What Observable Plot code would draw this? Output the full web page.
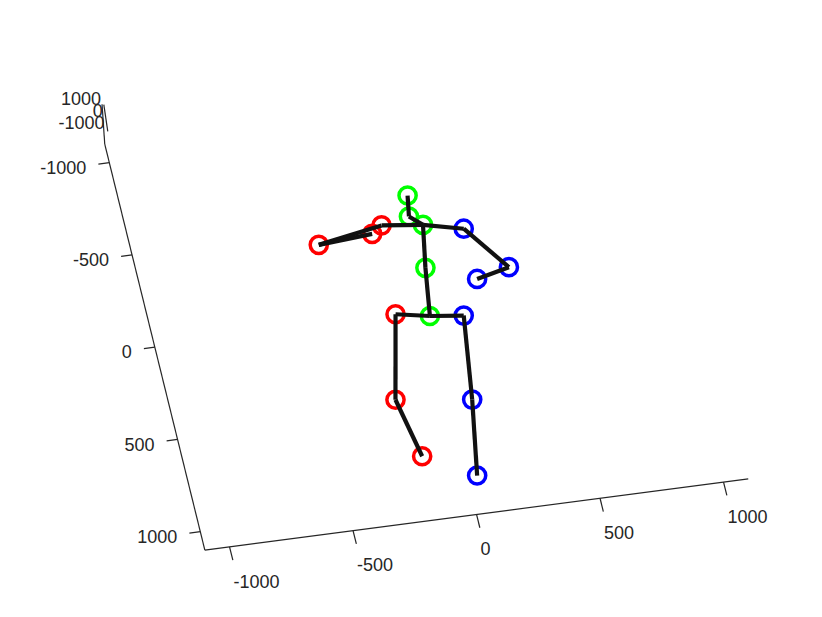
<!DOCTYPE html>
<html>
<head>
<meta charset="utf-8">
<script src="https://cdn.jsdelivr.net/npm/d3@7"></script>
<script src="https://cdn.jsdelivr.net/npm/@observablehq/plot@0.6"></script>
<style>
  html, body { margin: 0; padding: 0; background: #fff; }
  #chart svg { display: block; }
</style>
</head>
<body>
<div id="chart"></div>
<script>
// ---- Data (3D skeleton, mm; Z taken as 0) ----
const jointNames = ["pelvis","rhip","rknee","rfoot","lhip","lknee","lfoot","spine","thorax","neck","head","lshoulder","lelbow","lwrist","rshoulder","relbow","rwrist"];
const jointX = [9, -124, -207, -157, 142, 94, 40, 38, 70, 23, 38, 226, 366, 230, -93, -358, -138];
const jointY = [26, -7, 442, 757, 47, 494, 896, -230, -457, -511, -622, -409, -176, -136, -483, -424, -445];
const jointSide = ["center","right","right","right","left","left","left","center","center","center","center","left","left","left","right","right","right"];
const boneFrom = ["pelvis","rhip","rknee","pelvis","lhip","lknee","pelvis","spine","thorax","neck","thorax","lshoulder","lelbow","thorax","rshoulder","relbow"];
const boneTo   = ["rhip","rknee","rfoot","lhip","lknee","lfoot","spine","thorax","neck","head","lshoulder","lelbow","lwrist","rshoulder","relbow","rwrist"];
const xTicks = [-1000, -500, 0, 500, 1000];
const yTicks = [-1000, -500, 0, 500, 1000];
const zTicks = [-1000, 0, 1000];
const axisMin = -1100, axisMax = 1100;

// ---- View (oblique projection of the 3D axes onto the page) ----
const C = [426, 311];
const ex = [0.247, -0.0324];
const ey = [0.0455, 0.1845];
const ezEdge = [-0.00123, -0.01818];
const ezTick = [-0.0018, -0.0122];
const zTickOrigin = [105.3, 117.5];
const proj = (X, Y) => [C[0] + X * ex[0] + Y * ey[0], C[1] + X * ex[1] + Y * ey[1]];

const joints = jointNames.map((n, i) => {
  const [px, py] = proj(jointX[i], jointY[i]);
  return {name: n, side: jointSide[i], px, py};
});
const byName = Object.fromEntries(joints.map(d => [d.name, d]));
const bones = boneFrom.map((f, i) => ({a: byName[f], b: byName[boneTo[i]]}));

// axis lines
const xA = proj(axisMin, axisMax), xB = proj(axisMax, axisMax);
const yA = proj(axisMin, axisMax), yB = proj(axisMin, axisMin);
const zB = [yB[0] + (axisMax - axisMin) * ezEdge[0], yB[1] + (axisMax - axisMin) * ezEdge[1]];
const zT = z => [zTickOrigin[0] + z * ezTick[0], zTickOrigin[1] + z * ezTick[1]];
const axisSegs = [
  {x1: xA[0], y1: xA[1], x2: xB[0], y2: xB[1]},
  {x1: yA[0], y1: yA[1], x2: yB[0], y2: yB[1]},
  {x1: yB[0], y1: yB[1], x2: zB[0], y2: zB[1]},
  {x1: zT(axisMin)[0], y1: zT(axisMin)[1], x2: zT(axisMax)[0], y2: zT(axisMax)[1]}
];
const eyLen = Math.hypot(ey[0], ey[1]), exLen = Math.hypot(ex[0], ex[1]);
const xTickSegs = xTicks.map(v => {
  const [x, y] = proj(v, axisMax);
  return {v, x1: x, y1: y, x2: x + 13.7 * ey[0] / eyLen, y2: y + 13.7 * ey[1] / eyLen};
});
const yTickSegs = yTicks.map(v => {
  const [x, y] = proj(axisMin, v);
  return {v, x1: x, y1: y, x2: x - 11 * ex[0] / exLen, y2: y - 11 * ex[1] / exLen};
});
const zTickPts = zTicks.map(v => { const [x, y] = zT(v); return {v, x, y}; });

const axisColor = "#262626";
const font = "Liberation Sans, Arial, Helvetica, sans-serif";

const chart = Plot.plot({
  width: 822,
  height: 617,
  margin: 0,
  x: {domain: [0, 822], range: [0, 822], axis: null},
  y: {domain: [0, 617], range: [0, 617], axis: null},
  color: {domain: ["right", "center", "left"], range: ["#ff0000", "#00ff00", "#0000ff"]},
  style: {background: "#fff", fontFamily: font},
  marks: [
    Plot.link(axisSegs, {x1: "x1", y1: "y1", x2: "x2", y2: "y2", stroke: axisColor, strokeWidth: 1.2}),
    Plot.link(xTickSegs, {x1: "x1", y1: "y1", x2: "x2", y2: "y2", stroke: axisColor, strokeWidth: 1.2}),
    Plot.link(yTickSegs, {x1: "x1", y1: "y1", x2: "x2", y2: "y2", stroke: axisColor, strokeWidth: 1.2}),
    Plot.text(xTickSegs, {x: "x1", y: "y1", text: d => String(d.v), textAnchor: "start", dx: 4, dy: 35, fontSize: 18, fill: axisColor, fontFamily: font}),
    Plot.text(yTickSegs, {x: "x1", y: "y1", text: d => String(d.v), textAnchor: "end", dx: -23, dy: 5.5, fontSize: 18, fill: axisColor, fontFamily: font}),
    Plot.text(zTickPts, {x: "x", y: "y", text: d => String(d.v), textAnchor: "end", dx: -3, dy: -6.5, fontSize: 18, fill: axisColor, fontFamily: font}),
    Plot.dot(joints, {x: "px", y: "py", r: 8.6, stroke: "side", strokeWidth: 3.5, fill: "none"}),
    Plot.link(bones, {x1: d => d.a.px, y1: d => d.a.py, x2: d => d.b.px, y2: d => d.b.py, stroke: "#111", strokeWidth: 4.2})
  ]
});
document.getElementById("chart").appendChild(chart);
</script>
</body>
</html>
